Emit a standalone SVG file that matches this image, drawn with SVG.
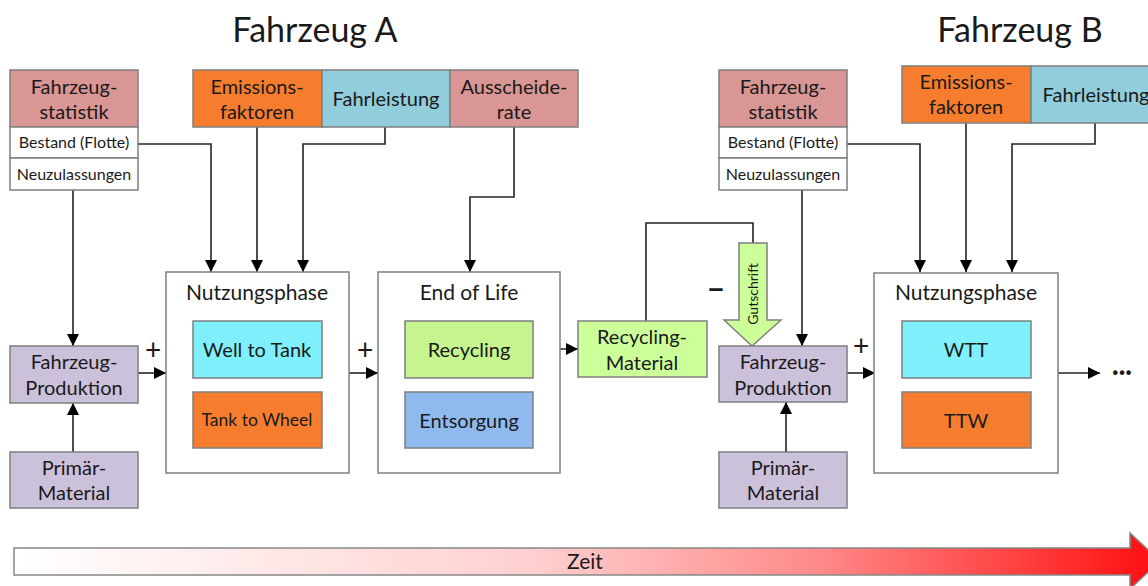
<svg xmlns="http://www.w3.org/2000/svg" width="1148" height="586" viewBox="0 0 1148 586">
<defs>
<marker id="ah" viewBox="0 0 10 10" refX="10" refY="5" markerWidth="12" markerHeight="12" markerUnits="userSpaceOnUse" orient="auto"><path d="M0,0 L10,5 L0,10 z" fill="#000"/></marker>
<linearGradient id="zg" x1="0" y1="0" x2="1" y2="0">
<stop offset="0" stop-color="#ffffff"/><stop offset="0.45" stop-color="#ffd0d0"/><stop offset="0.7" stop-color="#ff8a8a"/><stop offset="1" stop-color="#ff0d0d"/>
</linearGradient>
</defs>
<style>
text{font-family:Lato,"Liberation Sans",sans-serif;fill:#1a1a1a;text-anchor:middle}
.b{stroke:#7f7f7f;stroke-width:1.5}
.pink{fill:#d99694}.or{fill:#f77d2e}.bl{fill:#92cddc}.cy{fill:#7ff0fb}.lav{fill:#ccc1da}.gr{fill:#c6f58f}.lg{fill:#ccff99}.eb{fill:#8fbaf0}.w{fill:#fff}
.t{font-size:20px}.s{font-size:16px}.h{font-size:21px}
.c{fill:none;stroke:#222;stroke-width:1.6}
.p{font-size:28px}
</style>
<rect width="1148" height="586" fill="#fff"/>
<text x="315" y="42" style="font-size:34px">Fahrzeug A</text>
<text x="1020" y="42" style="font-size:34px">Fahrzeug B</text>

<g id="conn">
<path class="c" d="M138,144 H211 V272" marker-end="url(#ah)"/>
<path class="c" d="M257,127 V272" marker-end="url(#ah)"/>
<path class="c" d="M385,127 V144 H303 V272" marker-end="url(#ah)"/>
<path class="c" d="M514,127 V197 H470 V272" marker-end="url(#ah)"/>
<path class="c" d="M73,190 V346" marker-end="url(#ah)"/>
<path class="c" d="M73,452 V403" marker-end="url(#ah)"/>
<path class="c" d="M138,373 H166" marker-end="url(#ah)"/>
<path class="c" d="M349,373 H378" marker-end="url(#ah)"/>
<path class="c" d="M533,349 H578" marker-end="url(#ah)"/>
<path class="c" d="M646,321 V223 H753 V243"/>
<path class="c" d="M847,144 H920 V272" marker-end="url(#ah)"/>
<path class="c" d="M966,123 V272" marker-end="url(#ah)"/>
<path class="c" d="M1095,123 V144 H1012 V272" marker-end="url(#ah)"/>
<path class="c" d="M802,190 V346" marker-end="url(#ah)"/>
<path class="c" d="M786,452 V402" marker-end="url(#ah)"/>
<path class="c" d="M847,373 H875" marker-end="url(#ah)"/>
<path class="c" d="M1058,373 H1100" marker-end="url(#ah)"/>
<text x="1122" y="380" style="font-size:24px;font-weight:bold">···</text>
<text class="p" x="153" y="360">+</text>
<text class="p" x="365" y="360">+</text>
<text class="p" x="861" y="356">+</text>
<text x="716" y="300" style="font-size:30px;font-weight:bold">−</text>
</g>

<g id="statA">
<rect class="b pink" x="10" y="70" width="128" height="57"/>
<text class="t" x="74" y="94">Fahrzeug-</text><text class="t" x="74" y="119">statistik</text>
<rect class="b w" x="10" y="127" width="128" height="31"/>
<text class="s" x="74" y="148">Bestand (Flotte)</text>
<rect class="b w" x="10" y="158" width="128" height="32"/>
<text class="s" x="74" y="180">Neuzulassungen</text>
</g>
<g id="emA"><rect class="b or" x="193" y="70" width="129" height="57"/><text class="t" x="257" y="94">Emissions-</text><text class="t" x="257" y="119">faktoren</text></g>
<g id="flA"><rect class="b bl" x="322" y="70" width="128" height="57"/><text class="t" x="386" y="106">Fahrleistung</text></g>
<g id="ausA"><rect class="b pink" x="450" y="70" width="128" height="57"/><text class="t" x="514" y="94">Ausscheide-</text><text class="t" x="514" y="119">rate</text></g>

<g id="prodA"><rect class="b lav" x="10" y="346" width="128" height="57"/><text class="t" x="74" y="369">Fahrzeug-</text><text class="t" x="74" y="395">Produktion</text></g>
<g id="primA"><rect class="b lav" x="10" y="452" width="128" height="56"/><text class="t" x="74" y="475">Primär-</text><text class="t" x="74" y="500">Material</text></g>

<g id="nutzA">
<rect class="b w" x="166" y="272" width="183" height="201"/>
<text class="h" x="257" y="300">Nutzungsphase</text>
<rect class="b cy" x="193" y="321" width="129" height="57"/><text class="t" x="257" y="357">Well to Tank</text>
<rect class="b or" x="193" y="392" width="129" height="56"/><text style="font-size:17.5px" x="257" y="426">Tank to Wheel</text>
</g>
<g id="eol">
<rect class="b w" x="378" y="272" width="182" height="201"/>
<text class="h" x="469" y="300">End of Life</text>
<rect class="b gr" x="405" y="321" width="128" height="57"/><text class="t" x="469" y="357">Recycling</text>
<rect class="b eb" x="405" y="392" width="128" height="56"/><text class="t" x="469" y="428">Entsorgung</text>
</g>
<g id="recmat"><rect class="b lg" x="578" y="321" width="129" height="56"/><text class="t" x="642" y="344">Recycling-</text><text class="t" x="642" y="370">Material</text></g>
<g id="gutschrift">
<path class="b lg" d="M739,243 H767 V320 H781 L752,346 L724,320 H739 Z"/>
<text x="758" y="294" style="font-size:14px" transform="rotate(-90 758 294)">Gutschrift</text>
</g>

<g id="statB">
<rect class="b pink" x="719" y="70" width="128" height="57"/>
<text class="t" x="783" y="94">Fahrzeug-</text><text class="t" x="783" y="119">statistik</text>
<rect class="b w" x="719" y="127" width="128" height="31"/>
<text class="s" x="783" y="148">Bestand (Flotte)</text>
<rect class="b w" x="719" y="158" width="128" height="32"/>
<text class="s" x="783" y="180">Neuzulassungen</text>
</g>
<g id="emB"><rect class="b or" x="902" y="66" width="129" height="57"/><text class="t" x="966" y="89">Emissions-</text><text class="t" x="966" y="114">faktoren</text></g>
<g id="flB"><rect class="b bl" x="1031" y="66" width="130" height="57"/><text class="t" x="1096" y="102">Fahrleistung</text></g>
<g id="prodB"><rect class="b lav" x="719" y="346" width="128" height="56"/><text class="t" x="783" y="369">Fahrzeug-</text><text class="t" x="783" y="395">Produktion</text></g>
<g id="primB"><rect class="b lav" x="719" y="452" width="128" height="56"/><text class="t" x="783" y="475">Primär-</text><text class="t" x="783" y="500">Material</text></g>
<g id="nutzB">
<rect class="b w" x="874" y="273" width="184" height="200"/>
<text class="h" x="966" y="300">Nutzungsphase</text>
<rect class="b cy" x="902" y="321" width="129" height="57"/><text class="t" x="966" y="357">WTT</text>
<rect class="b or" x="902" y="392" width="129" height="56"/><text class="t" x="966" y="428">TTW</text>
</g>

<g id="zeit">
<path d="M14,548 H1130 V533 L1160,561 L1130,589 V575 H14 Z" fill="url(#zg)" stroke="#888" stroke-width="1.5"/>
<text x="585" y="569" style="font-size:21px">Zeit</text>
</g>
</svg>
